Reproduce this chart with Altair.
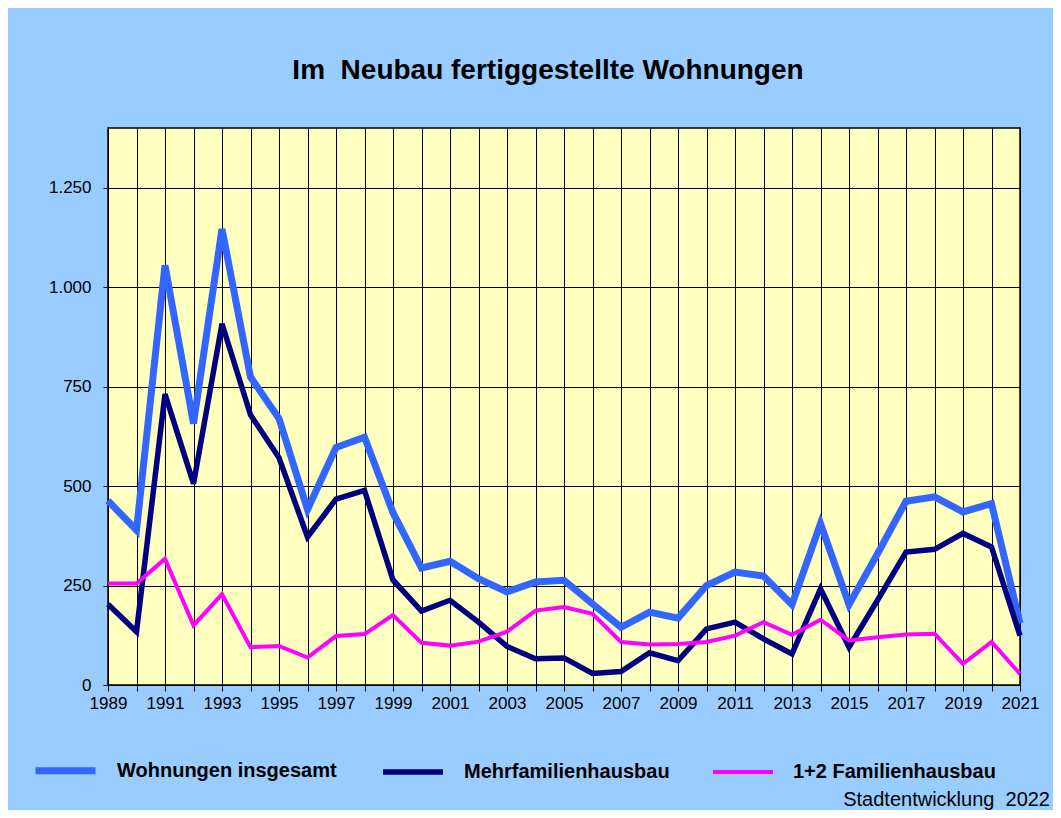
import altair as alt
import pandas as pd

years = list(range(1989, 2022))
insgesamt = [463, 389, 1055, 657, 1146, 774, 670, 441, 597, 623, 433, 294, 311,
             267, 234, 259, 263, 204, 145, 183, 168, 250, 284,
             274, 202, 406, 202, 330, 462, 473, 435, 456, 155]
mehrfamilien = [203, 134, 731, 506, 908, 679, 571, 372, 467, 489, 264, 186, 213,
                158, 97, 66, 68, 29, 34, 81, 61, 141, 158,
                116, 78, 242, 95, 213, 334, 341, 381, 347, 124]
familien12 = [255, 255, 317, 150, 228, 95, 98, 69, 123, 128, 176, 106, 99,
              109, 134, 187, 196, 179, 108, 102, 103, 108, 124,
              158, 126, 164, 112, 120, 127, 129, 53, 108, 28]

series_names = ["Wohnungen insgesamt", "Mehrfamilienhausbau", "1+2 Familienhausbau"]
series_colors = ["#3366FF", "#000080", "#FF00FF"]
series_widths = [7, 4, 4]
y_ticks = [0, 250, 500, 750, 1000, 1250]

rows = []
for name, vals in zip(series_names, [insgesamt, mehrfamilien, familien12]):
    for yr, v in zip(years, vals):
        rows.append({"Jahr": yr, "Wert": v, "Reihe": name, "order": series_names.index(name)})
df = pd.DataFrame(rows)

W, H = 912, 557

legend_kw = dict(title=None, orient="none", direction="horizontal",
                 legendX=-76, legendY=609,
                 symbolType="stroke", symbolSize=3600,
                 labelFontSize=20, labelFontWeight="bold", labelLimit=0,
                 labelOffset=18, columnPadding=35,
                 labelFont="Liberation Sans", labelColor="black")

lines = alt.Chart(df).mark_line(strokeJoin="miter", strokeCap="butt").encode(
    x=alt.X("Jahr:Q",
            scale=alt.Scale(domain=[1989, 2021], nice=False, zero=False),
            axis=alt.Axis(values=years, format="d", title=None,
                          labelExpr="datum.value % 2 == 1 ? datum.label : ''",
                          labelOverlap=False, labelFlush=False, labelBound=False,
                          labelFontSize=17, labelPadding=4,
                          tickSize=6, grid=True)),
    y=alt.Y("Wert:Q",
            scale=alt.Scale(domain=[0, 1400], nice=False),
            axis=alt.Axis(values=y_ticks, title=None,
                          labelExpr="replace(format(datum.value, ','), ',', '.')",
                          labelFontSize=17, labelPadding=12, tickSize=5, grid=True)),
    color=alt.Color("Reihe:N",
                    scale=alt.Scale(domain=series_names, range=series_colors),
                    legend=alt.Legend(**legend_kw)),
    strokeWidth=alt.StrokeWidth("Reihe:N",
                                scale=alt.Scale(domain=series_names, range=series_widths),
                                legend=alt.Legend(**legend_kw)),
    detail="Reihe:N",
    order="order:Q",
)

note_df = pd.DataFrame({"t": ["Stadtentwicklung\u00a0\u00a02022"]})
note = alt.Chart(note_df).mark_text(
    align="right", baseline="middle", fontSize=20, font="Liberation Sans", color="black"
).encode(text="t:N", x=alt.value(W + 30), y=alt.value(H + 115))

chart = alt.layer(lines, note).properties(
    width=W, height=H,
    title=alt.Title("Im\u00a0\u00a0Neubau fertiggestellte Wohnungen", fontSize=28,
                    fontWeight="bold", font="Liberation Sans", offset=43,
                    anchor="middle", color="black", dx=-16),
    background="#99CCFF",
    padding={"left": 100, "top": 120, "right": 33, "bottom": 125},
    autosize=alt.AutoSizeParams(type="none"),
).configure_view(
    fill="#FFFFC0", stroke="black", strokeWidth=1.5
).configure_axis(
    domainColor="black", tickColor="black", gridColor="black", gridOpacity=1,
    gridWidth=1, labelColor="black", labelFont="Liberation Sans",
)

chart.save("out.html", embed_options={"renderer": "svg", "actions": False})
